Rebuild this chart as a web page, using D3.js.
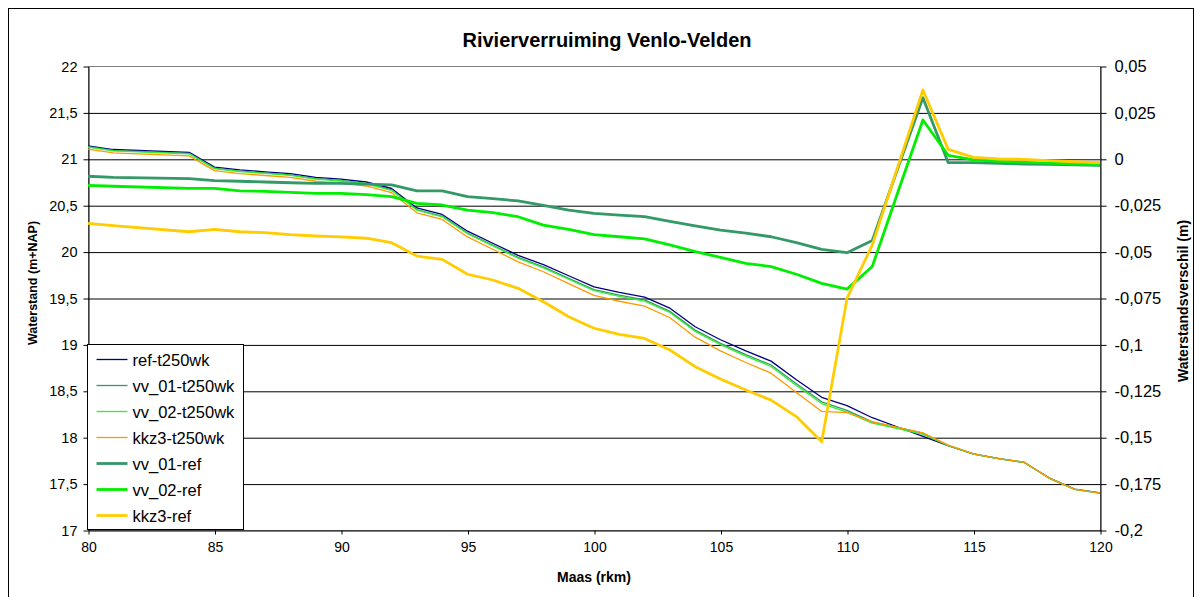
<!DOCTYPE html>
<html>
<head>
<meta charset="utf-8">
<script src="https://cdn.jsdelivr.net/npm/d3@7"></script>
<style>
  body { margin: 0; background: #fff; }
  text { font-family: "Liberation Sans", Arial, sans-serif; }
</style>
</head>
<body>
<div id="chart-holder"></div>
<script>
//****DATA****
const km = [80, 81, 84, 85, 86, 87, 88, 89, 90, 91, 92, 93, 94, 95, 96, 97, 98, 99, 100,
            101, 102, 103, 104, 105, 106, 107, 108, 109, 110, 111, 112, 113, 114, 115, 116, 117, 118, 119, 120];

// water levels (left axis, m+NAP)
const refT250 = [21.14, 21.10, 21.07, 20.91, 20.88, 20.86, 20.84, 20.80, 20.78, 20.75, 20.68, 20.47, 20.40,
                 20.22, 20.09, 19.96, 19.86, 19.74, 19.62, 19.56, 19.51, 19.39, 19.19, 19.05, 18.93, 18.82,
                 18.62, 18.43, 18.34, 18.21, 18.11, 18.01, 17.91, 17.82, 17.77, 17.73, 17.56, 17.44, 17.40];
const vv01T250 = [21.131, 21.090, 21.059, 20.898, 20.868, 20.848, 20.827, 20.787, 20.767, 20.736, 20.666, 20.453, 20.383,
                  20.200, 20.069, 19.937, 19.835, 19.712, 19.591, 19.530, 19.479, 19.356, 19.154, 19.012, 18.890, 18.778,
                  18.575, 18.381, 18.289, 18.166, 18.105, 18.043, 17.908, 17.818, 17.768, 17.727, 17.557, 17.437, 17.397];
const vv02T250 = [21.126, 21.085, 21.054, 20.894, 20.863, 20.843, 20.822, 20.781, 20.761, 20.731, 20.660, 20.446, 20.375,
                  20.192, 20.061, 19.929, 19.824, 19.702, 19.579, 19.518, 19.467, 19.344, 19.140, 18.997, 18.874, 18.762,
                  18.558, 18.363, 18.270, 18.152, 18.092, 18.031, 17.912, 17.819, 17.769, 17.728, 17.558, 17.437, 17.397];
const kkz3T250 = [21.105, 21.064, 21.031, 20.872, 20.841, 20.820, 20.799, 20.758, 20.738, 20.707, 20.635, 20.418, 20.346,
                  20.158, 20.025, 19.890, 19.783, 19.655, 19.529, 19.465, 19.413, 19.287, 19.078, 18.931, 18.805, 18.690,
                  18.481, 18.278, 18.265, 18.164, 18.105, 18.047, 17.915, 17.821, 17.770, 17.730, 17.559, 17.438, 17.398];

// differences (right axis, m)
const vv01Ref = [-0.0094, -0.0100, -0.0107, -0.0118, -0.0121, -0.0125, -0.0129, -0.0132, -0.0132, -0.0136, -0.0141, -0.0173, -0.0173,
                 -0.0204, -0.0215, -0.0227, -0.0251, -0.0276, -0.0294, -0.0304, -0.0312, -0.0337, -0.0362, -0.0384, -0.0401, -0.0420,
                 -0.0452, -0.0488, -0.0506, -0.0440, -0.0055, 0.0329, -0.0021, -0.0021, -0.0024, -0.0028, -0.0030, -0.0033, -0.0035];
const vv02Ref = [-0.0143, -0.0148, -0.0159, -0.0159, -0.0173, -0.0175, -0.0181, -0.0186, -0.0186, -0.0193, -0.0204, -0.0240, -0.0249,
                 -0.0276, -0.0290, -0.0312, -0.0357, -0.0380, -0.0409, -0.0420, -0.0432, -0.0464, -0.0500, -0.0531, -0.0563, -0.0581,
                 -0.0622, -0.0671, -0.0702, -0.0580, -0.0184, 0.0209, 0.0019, -0.0006, -0.0014, -0.0019, -0.0023, -0.0028, -0.0033];
const kkz3Ref = [-0.0348, -0.0360, -0.0393, -0.0380, -0.0393, -0.0398, -0.0409, -0.0416, -0.0421, -0.0428, -0.0452, -0.0524, -0.0542,
                 -0.0622, -0.0653, -0.0698, -0.0770, -0.0851, -0.0913, -0.0946, -0.0968, -0.1030, -0.1120, -0.1186, -0.1246, -0.1300,
                 -0.1389, -0.1524, -0.0752, -0.0464, -0.0046, 0.0371, 0.0051, 0.0008, -0.0001, -0.0003, -0.0010, -0.0016, -0.0021];

// ticks
const xTicks = [80, 85, 90, 95, 100, 105, 110, 115, 120];
const leftTicks = [17, 17.5, 18, 18.5, 19, 19.5, 20, 20.5, 21, 21.5, 22];
const leftTickLabels = ["17", "17,5", "18", "18,5", "19", "19,5", "20", "20,5", "21", "21,5", "22"];
const rightTicks = [-0.2, -0.175, -0.15, -0.125, -0.1, -0.075, -0.05, -0.025, 0, 0.025, 0.05];
const rightTickLabels = ["-0,2", "-0,175", "-0,15", "-0,125", "-0,1", "-0,075", "-0,05", "-0,025", "0", "0,025", "0,05"];

const seriesNames = ["ref-t250wk", "vv_01-t250wk", "vv_02-t250wk", "kkz3-t250wk", "vv_01-ref", "vv_02-ref", "kkz3-ref"];
const seriesValues = [refT250, vv01T250, vv02T250, kkz3T250, vv01Ref, vv02Ref, kkz3Ref];
const seriesAxis = ["left", "left", "left", "left", "right", "right", "right"];
const seriesColors = ["#000080", "#339966", "#33ee33", "#ff9900", "#339966", "#00ee00", "#ffcc00"];
const seriesWidths = [1.3, 1.3, 1.3, 1.3, 2.8, 2.8, 2.8];

//****CANVAS****
const width = 1195;
const height = 597;
const plotLeft = 88, plotRight = 1100, plotTop = 66, plotBottom = 530;

const svg = d3.select('#chart-holder')
    .append('svg')
    .attr('width', width)
    .attr('height', height)
    .style('display', 'block');

svg.append('rect')
    .attr('x', 0).attr('y', 0)
    .attr('width', width).attr('height', height)
    .attr('fill', '#fff');

// outer chart frame
svg.append('rect')
    .attr('x', 8.5).attr('y', 8.5)
    .attr('width', width - 10).attr('height', height)
    .attr('fill', 'none')
    .attr('stroke', '#000')
    .attr('stroke-width', 1);

// title
svg.append('text')
    .attr('x', 607)
    .attr('y', 47)
    .attr('text-anchor', 'middle')
    .style('font-weight', 'bold')
    .style('font-size', '20px')
    .text('Rivierverruiming Venlo-Velden');

//****SCALES****
const xScale = d3.scaleLinear().domain([80, 120]).range([plotLeft, plotRight]);
const yLeft = d3.scaleLinear().domain([17, 22]).range([plotBottom, plotTop]);
const yRight = d3.scaleLinear().domain([-0.2, 0.05]).range([plotBottom, plotTop]);

// plot area border (grey)
svg.append('rect')
    .attr('x', plotLeft + 0.5).attr('y', plotTop + 0.5)
    .attr('width', plotRight - plotLeft).attr('height', plotBottom - plotTop)
    .attr('fill', 'none')
    .attr('stroke', '#808080');

// gridlines
svg.append('g')
    .attr('transform', `translate(${plotLeft}, 0.5)`)
    .call(d3.axisLeft(yLeft)
        .tickValues(leftTicks.filter(d => d > 17 && d < 22))
        .tickSize(-(plotRight - plotLeft))
        .tickFormat(''))
    .call(g => g.select('.domain').remove())
    .selectAll('line')
        .attr('stroke', '#000');

//****AXES****
const leftAxis = svg.append('g')
    .attr('transform', `translate(${plotLeft + 0.5}, 0.5)`)
    .call(d3.axisLeft(yLeft)
        .tickValues(leftTicks)
        .tickFormat((d, i) => leftTickLabels[i])
        .tickSize(5)
        .tickSizeOuter(0)
        .tickPadding(6));
leftAxis.selectAll('text')
    .style('font-size', '14.5px')
    .attr('font-family', null);

const rightAxis = svg.append('g')
    .attr('transform', `translate(${plotRight + 0.5}, 0.5)`)
    .call(d3.axisRight(yRight)
        .tickValues(rightTicks)
        .tickFormat((d, i) => rightTickLabels[i])
        .tickSize(6)
        .tickSizeOuter(0)
        .tickPadding(8));
rightAxis.selectAll('text')
    .style('font-size', '16.5px')
    .attr('font-family', null);

const bottomAxis = svg.append('g')
    .attr('transform', `translate(0.5, ${plotBottom + 0.5})`)
    .call(d3.axisBottom(xScale)
        .tickValues(xTicks)
        .tickFormat(d3.format('d'))
        .tickSize(4)
        .tickSizeOuter(0)
        .tickPadding(8));
bottomAxis.selectAll('text')
    .style('font-size', '14px')
    .attr('font-family', null);

[leftAxis, rightAxis, bottomAxis].forEach(a => {
    a.attr('font-family', null);
    a.selectAll('line, path').attr('stroke', '#000');
});

// axis titles
svg.append('text')
    .attr('transform', `translate(37, 283) rotate(-90)`)
    .attr('text-anchor', 'middle')
    .style('font-weight', 'bold')
    .style('font-size', '12.5px')
    .text('Waterstand (m+NAP)');

svg.append('text')
    .attr('transform', `translate(1188, 301) rotate(-90)`)
    .attr('text-anchor', 'middle')
    .style('font-weight', 'bold')
    .style('font-size', '14px')
    .text('Waterstandsverschil (m)');

svg.append('text')
    .attr('x', (plotLeft + plotRight) / 2)
    .attr('y', 582)
    .attr('text-anchor', 'middle')
    .style('font-weight', 'bold')
    .style('font-size', '14px')
    .text('Maas (rkm)');

//****LINES****
const lineGroup = svg.append('g');
seriesValues.forEach((vals, s) => {
    const yScale = seriesAxis[s] === 'left' ? yLeft : yRight;
    const line = d3.line()
        .x((d, i) => xScale(km[i]))
        .y(d => yScale(d));
    lineGroup.append('path')
        .datum(vals)
        .attr('d', line)
        .attr('fill', 'none')
        .attr('stroke', seriesColors[s])
        .attr('stroke-width', seriesWidths[s])
        .attr('stroke-linejoin', 'round');
});

//****LEGEND****
const legend = svg.append('g').attr('transform', 'translate(87.5, 344.5)');
legend.append('rect')
    .attr('width', 156).attr('height', 185)
    .attr('fill', '#fff')
    .attr('stroke', '#000');
seriesNames.forEach((name, s) => {
    const cy = 15 + s * 26;
    legend.append('line')
        .attr('x1', 9).attr('x2', 40)
        .attr('y1', cy).attr('y2', cy)
        .attr('stroke', seriesColors[s])
        .attr('stroke-width', seriesWidths[s]);
    legend.append('text')
        .attr('x', 45)
        .attr('y', cy + 6)
        .style('font-size', '16.5px')
        .text(name);
});
</script>
</body>
</html>
